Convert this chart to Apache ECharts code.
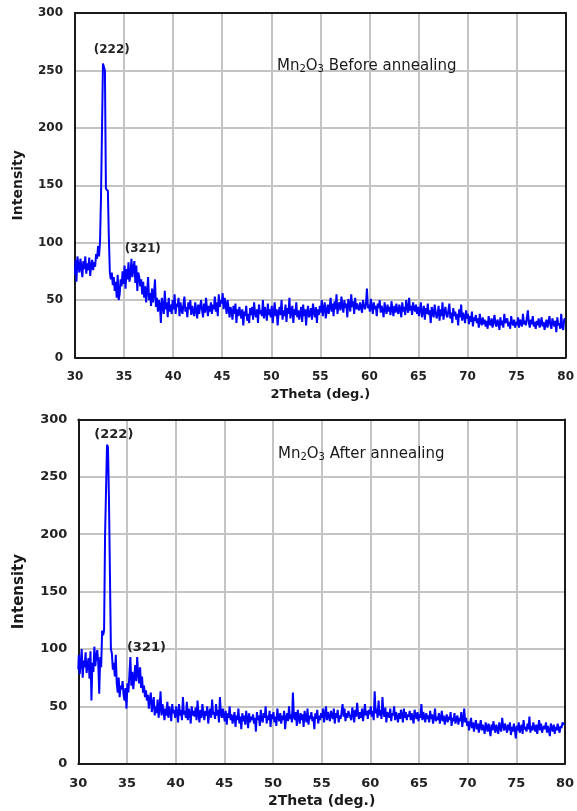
<!DOCTYPE html>
<html>
<head>
<meta charset="utf-8">
<script src="https://cdn.jsdelivr.net/npm/echarts@6/dist/echarts.min.js"></script>
<style>html,body{margin:0;padding:0;background:#fff}#c{width:577px;height:811px}</style>
</head>
<body>
<div id="c"></div>
<script>
// 2-theta sampling grid (degrees)
const thetaStart = 30;
const thetaStep = 0.1;

// Intensity, Mn2O3 before annealing, one row per degree (30.0 ... 80.0)
const beforeIntensity = [
  72, 85, 66, 88, 80, 74, 86, 79, 70, 84,
  77, 88, 73, 82, 76, 87, 71, 80, 85, 76,
  83, 79, 90, 86, 97, 88, 101, 140, 141, 256,
  256, 250, 147, 146, 145, 105, 74, 68, 74, 63,
  70, 58, 66, 52, 72, 50, 55, 68, 62, 75,
  64, 80, 60, 77, 68, 83, 66, 72, 86, 70,
  78, 84, 65, 80, 58, 74, 70, 62, 68, 55,
  66, 52, 62, 48, 58, 70, 50, 56, 45, 60,
  48, 55, 68, 44, 52, 40, 50, 46, 30, 52,
  45, 38, 58, 42, 48, 35, 52, 40, 46, 38,
  50, 42, 55, 38, 47, 44, 52, 36, 48, 42,
  38, 46, 53, 40, 44, 35, 48, 42, 50, 37,
  45, 40, 36, 48, 42, 34, 46, 38, 44, 50,
  41, 35, 47, 39, 52, 43, 36, 45, 40, 48,
  38, 46, 42, 53, 40, 48, 36, 55, 44, 50,
  47, 56, 42, 52, 46, 38, 50, 43, 35, 44,
  40, 33, 45, 38, 47, 30, 42, 36, 44, 39,
  34, 42, 28, 40, 36, 45, 32, 38, 30, 43,
  37, 44, 33, 48, 39, 35, 42, 30, 46, 38,
  41, 36, 50, 34, 44, 39, 32, 47, 37, 42,
  35, 45, 30, 40, 48, 36, 42, 28, 39, 44,
  37, 50, 33, 41, 36, 46, 31, 43, 38, 52,
  34, 40, 45, 30, 42, 37, 48, 35, 41, 33,
  39, 44, 31, 46, 36, 42, 28, 40, 45, 35,
  38, 43, 33, 47, 40, 35, 44, 30, 42, 37,
  45, 39, 50, 36, 43, 48, 34, 41, 46, 38,
  44, 52, 40, 47, 36, 49, 42, 55, 38, 45,
  48, 41, 53, 45, 39, 50, 43, 47, 35, 51,
  46, 40, 55, 44, 49, 38, 52, 42, 47, 43,
  41, 48, 44, 39, 50, 45, 42, 47, 60, 43,
  46, 40, 51, 44, 38, 48, 42, 45, 36, 47,
  43, 50, 39, 45, 41, 35, 48, 42, 38, 46,
  40, 44, 37, 49, 42, 36, 45, 39, 47, 41,
  38, 46, 42, 35, 48, 40, 44, 37, 50, 43,
  39, 52, 41, 45, 37, 48, 43, 40, 46, 38,
  44, 36, 42, 48, 35, 40, 45, 33, 43, 38,
  47, 37, 41, 30, 44, 39, 35, 46, 40, 34,
  38, 45, 32, 42, 36, 48, 33, 40, 44, 37,
  35, 41, 47, 34, 39, 30, 43, 36, 40, 33,
  38, 28, 42, 35, 46, 32, 39, 36, 30, 41,
  34, 38, 29, 36, 31, 40, 27, 35, 32, 37,
  30, 34, 26, 38, 31, 28, 35, 29, 33, 27,
  32, 25, 36, 30, 28, 34, 26, 31, 37, 29,
  27, 33, 30, 24, 35, 28, 32, 26, 38, 30,
  29, 34, 27, 31, 25, 36, 30, 28, 33, 26,
  31, 28, 35, 26, 33, 30, 27, 38, 29, 32,
  28, 35, 41, 30, 26, 33, 29, 36, 27, 31,
  25, 32, 28, 34, 26, 30, 35, 27, 31, 24,
  29, 33, 26, 31, 36, 28, 25, 34, 30, 27,
  32, 22, 35, 28, 30, 25, 38, 27, 24, 33,
  34
];

// Intensity, Mn2O3 after annealing (30.0 ... 80.0)
const afterIntensity = [
  82, 95, 78, 88, 100, 75, 90, 84, 97, 79,
  86, 92, 74, 98, 55, 88, 80, 102, 85, 94,
  99, 88, 61, 93, 84, 116, 112, 116, 199, 200,
  278, 276, 231, 230, 100, 96, 82, 88, 76, 95,
  70, 62, 75, 58, 68, 65, 72, 60, 55, 66,
  48, 70, 62, 78, 93, 68, 80, 65, 75, 86,
  72, 93, 78, 70, 84, 66, 76, 62, 68, 58,
  64, 55, 60, 48, 56, 62, 45, 52, 58, 42,
  50, 44, 56, 40, 48, 63, 42, 52, 46, 38,
  48, 42, 54, 40, 50, 45, 37, 52, 44, 47,
  40, 50, 44, 36, 52, 42, 47, 38, 58, 43,
  46, 40, 54, 38, 48, 44, 35, 50, 42, 46,
  41, 49, 38, 55, 43, 36, 47, 40, 52, 44,
  38, 46, 42, 50, 35, 44, 48, 40, 56, 43,
  45, 39, 52, 42, 47, 36, 58, 44, 40, 48,
  42, 37, 46, 34, 44, 40, 50, 38, 43, 35,
  40, 45, 32, 42, 38, 48, 35, 41, 30, 44,
  37, 42, 34, 46, 39, 31, 44, 36, 41, 38,
  43, 35, 40, 28, 45, 38, 42, 33, 47, 39,
  36, 44, 40, 50, 35, 42, 38, 46, 32, 43,
  39, 45, 36, 41, 33, 48, 40, 37, 44, 35,
  42, 38, 46, 30, 40, 44, 37, 50, 39, 43,
  36, 62, 41, 38, 45, 33, 47, 40, 35, 44,
  38, 43, 32, 46, 40, 36, 48, 34, 42, 39,
  45, 37, 41, 30, 44, 39, 47, 35, 42, 38,
  44, 40, 48, 36, 43, 50, 38, 45, 41, 37,
  46, 42, 39, 48, 35, 44, 40, 47, 36, 42,
  39, 45, 52, 41, 48, 37, 44, 40, 46, 43,
  42, 38, 49, 44, 36, 47, 41, 53, 43, 39,
  45, 40, 48, 37, 44, 52, 42, 46, 39, 47,
  43, 50, 41, 46, 38, 63, 44, 48, 40, 55,
  42, 47, 39, 58, 44, 41, 49, 36, 45, 43,
  40, 48, 37, 44, 42, 50, 38, 45, 41, 36,
  44, 39, 47, 42, 36, 48, 40, 45, 38, 43,
  41, 46, 38, 44, 40, 35, 47, 42, 39, 45,
  37, 43, 40, 52, 38, 45, 41, 36, 44, 39,
  42, 36, 46, 39, 43, 35, 40, 48, 37, 41,
  38, 44, 35, 40, 46, 37, 42, 34, 39, 43,
  36, 41, 38, 45, 33, 40, 37, 44, 35, 39,
  42, 34, 40, 37, 45, 32, 39, 48, 36, 40,
  33, 37, 29, 35, 40, 31, 36, 28, 34, 38,
  30, 35, 27, 33, 38, 29, 34, 31, 26, 36,
  32, 28, 35, 30, 24, 34, 29, 37, 31, 27,
  34, 30, 26, 36, 31, 28, 40, 33, 29, 35,
  31, 27, 34, 29, 36, 25, 32, 28, 35, 30,
  22, 33, 29, 36, 27, 31, 34, 26, 38, 30,
  32, 28, 35, 30, 41, 27, 33, 29, 36, 31,
  28, 34, 26, 32, 38, 29, 35, 27, 31, 33,
  30, 36, 27, 33, 29, 24, 35, 31, 28, 34,
  26, 32, 29, 35, 30, 27, 33, 31, 36, 34,
  35
];

// Peak index labels: [label, 2theta, intensity]
const beforePeaks = [['(222)', 33.75, 268], ['(321)', 36.9, 95]];
const afterPeaks = [['(222)', 33.65, 287], ['(321)', 37.0, 101]];

const titles = ['Mn{s|2}O{s|3} Before annealing', 'Mn{s|2}O{s|3} After annealing'];
const xName = '2Theta (deg.)';
const yName = 'Intensity';

function pairs(vals) {
  return vals.map((v, i) => [Math.round((thetaStart + i * thetaStep) * 10) / 10, v]);
}

const FONT = 'DejaVu Sans';
const sizes = [
  { tick: 12, yname: 14, xname: 13, ygap: 50, ymargin: 12 },
  { tick: 13, yname: 15, xname: 14, ygap: 52, ymargin: 11 }
];

const grids = [
  { left: 75, top: 13, width: 493.7, height: 344.5 },
  { left: 78.3, top: 419.5, width: 490.4, height: 344.2 }
];

const xAxes = [], yAxes = [], series = [];
[0, 1].forEach(g => {
  const s = sizes[g];
  xAxes.push({
    type: 'value', gridIndex: g, min: 30, max: 80, interval: 5,
    name: xName, nameLocation: 'middle', nameGap: 31,
    nameTextStyle: { fontFamily: FONT, fontWeight: 'bold', fontSize: s.xname, color: '#1a1a1a' },
    axisLine: { show: true, onZero: false, lineStyle: { color: '#1a1a1a', width: 2 } },
    axisTick: { show: false },
    axisLabel: { fontFamily: FONT, fontWeight: 'bold', fontSize: s.tick, color: '#222', margin: 13 },
    splitLine: { show: true, lineStyle: { color: '#c4c4c4', width: 2 } }
  });
  xAxes.push({
    type: 'value', gridIndex: g, min: 30, max: 80, position: 'top',
    axisLine: { show: true, onZero: false, lineStyle: { color: '#1a1a1a', width: 2 } },
    axisTick: { show: false }, axisLabel: { show: false }, splitLine: { show: false }
  });
  yAxes.push({
    type: 'value', gridIndex: g, min: 0, max: 300, interval: 50,
    name: yName, nameLocation: 'middle', nameGap: s.ygap, nameRotate: 90,
    nameTextStyle: { fontFamily: FONT, fontWeight: 'bold', fontSize: s.yname, color: '#1a1a1a' },
    axisLine: { show: true, onZero: false, lineStyle: { color: '#1a1a1a', width: 2 } },
    axisTick: { show: false },
    axisLabel: { fontFamily: FONT, fontWeight: 'bold', fontSize: s.tick, color: '#222', margin: s.ymargin },
    splitLine: { show: true, lineStyle: { color: '#c4c4c4', width: 2 } }
  });
  yAxes.push({
    type: 'value', gridIndex: g, min: 0, max: 300, position: 'right',
    axisLine: { show: true, onZero: false, lineStyle: { color: '#1a1a1a', width: 2 } },
    axisTick: { show: false }, axisLabel: { show: false }, splitLine: { show: false }
  });
  const vals = g === 0 ? beforeIntensity : afterIntensity;
  const peaks = g === 0 ? beforePeaks : afterPeaks;
  series.push({
    type: 'line', xAxisIndex: g * 2, yAxisIndex: g * 2,
    data: pairs(vals), step: 'middle', showSymbol: false, symbol: 'none',
    sampling: null, animation: false,
    lineStyle: { color: '#0000ff', width: 2 },
    markPoint: {
      symbol: 'circle', symbolSize: 1, animation: false,
      itemStyle: { color: 'rgba(0,0,0,0)' },
      label: { show: true, position: 'inside', formatter: p => p.name,
        fontFamily: FONT, fontWeight: 'bold', fontSize: s.tick, color: '#222' },
      data: peaks.map(p => ({ name: p[0], coord: [p[1], p[2]] }))
    },
    z: 3
  });
});

const titleOpts = [
  { text: titles[0], left: 272, top: 53 },
  { text: titles[1], left: 273, top: 441 }
].map(t => ({
  text: t.text, left: t.left, top: t.top,
  textStyle: {
    fontFamily: FONT, fontSize: 15, fontWeight: 'normal', color: '#1a1a1a',
    rich: { s: { fontFamily: FONT, fontSize: 10, color: '#1a1a1a', verticalAlign: 'bottom', padding: [6, 0, 0, 0] } }
  }
}));

const chart = echarts.init(document.getElementById('c'), null, { renderer: 'canvas' });
chart.setOption({
  animation: false,
  backgroundColor: '#fff',
  title: titleOpts,
  grid: grids,
  xAxis: xAxes,
  yAxis: yAxes,
  series: series
});
</script>
</body>
</html>
